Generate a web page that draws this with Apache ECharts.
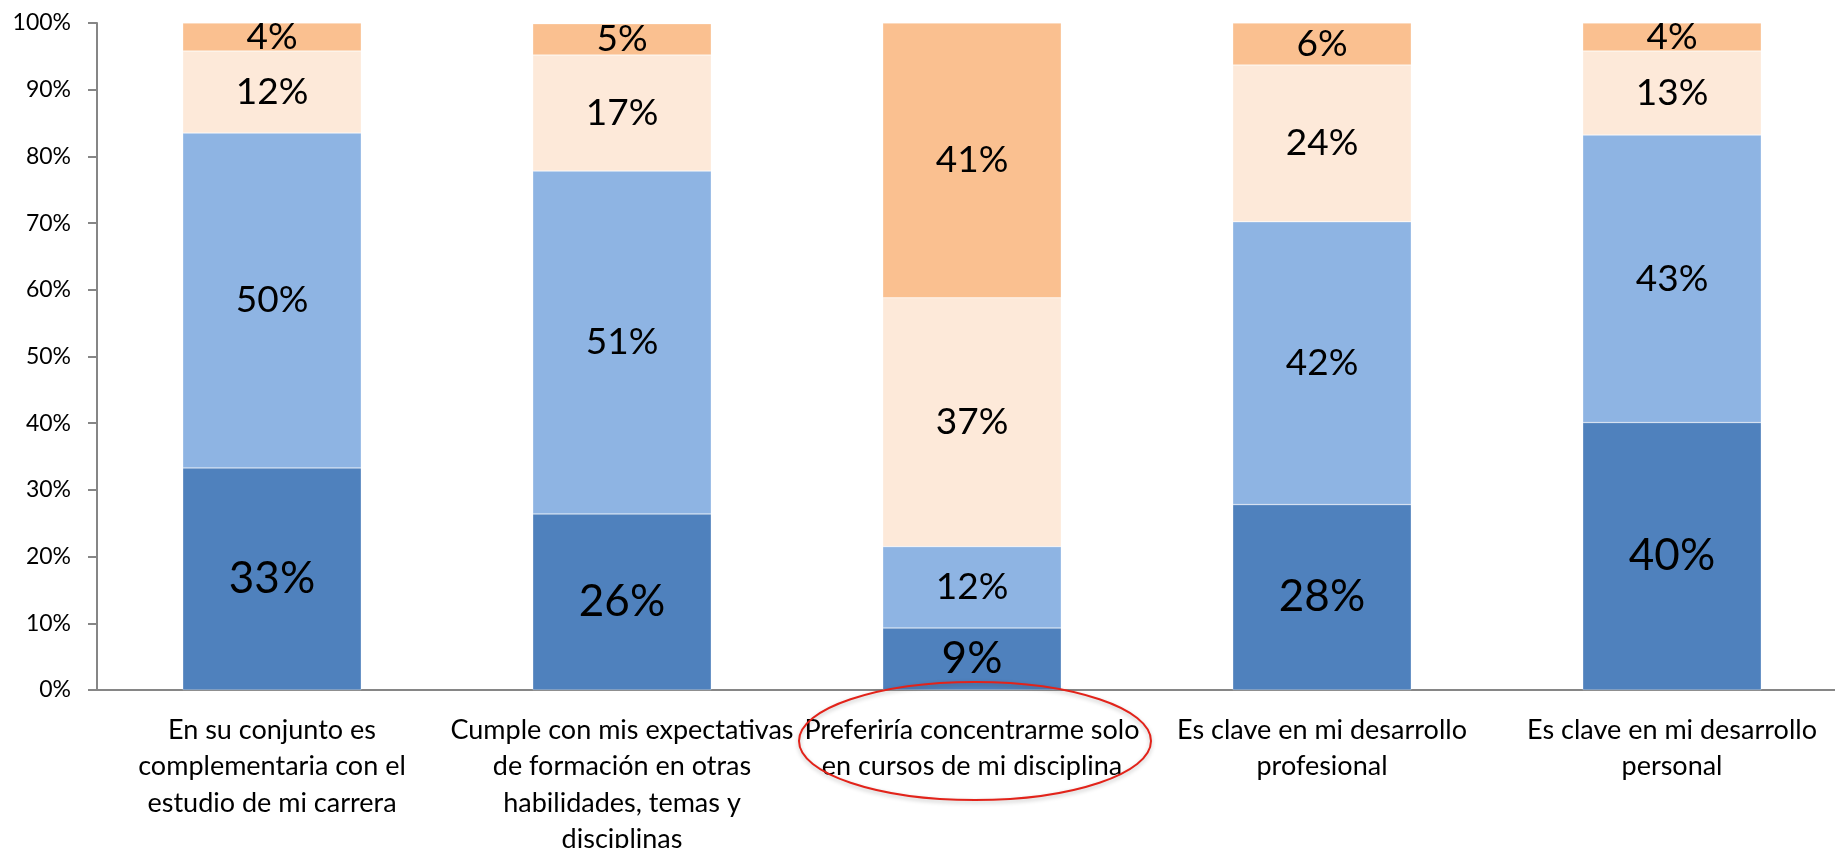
<!DOCTYPE html>
<html>
<head>
<meta charset="utf-8">
<script src="https://cdn.jsdelivr.net/npm/echarts@6/dist/echarts.min.js"></script>
<style>
  html, body { margin: 0; padding: 0; background: #fff; overflow: hidden; }
  /* el eje X sigue un poco mas alla del borde derecho de la imagen */
  #main { width: 1850px; height: 848px; }
</style>
</head>
<body>
<div id="main"></div>
<script>
  // categorias (eje X)
  const categories = [
    'En su conjunto es\ncomplementaria con el\nestudio de mi carrera',
    'Cumple con mis expectativas\nde formación en otras\nhabilidades, temas y\ndisciplinas',
    'Preferiría concentrarme solo\nen cursos de mi disciplina',
    'Es clave en mi desarrollo\nprofesional',
    'Es clave en mi desarrollo\npersonal'
  ]
  // porcentajes por nivel, de abajo hacia arriba
  const serie1 = [33.3, 26.4, 9.3, 27.8, 40.1]
  const serie2 = [50.2, 51.4, 12.2, 42.4, 43.1]
  const serie3 = [12.3, 17.4, 37.3, 23.5, 12.6]
  const serie4 = [4.2, 4.7, 41.2, 6.3, 4.2]
  const colores = ['#4F81BD', '#8EB4E3', '#FDE9D9', '#FAC090']
  const fuente = 'Lato, "Open Sans", sans-serif'

  const myChart = echarts.init(document.getElementById('main'))

  function serie(name, data, color, size) {
    return {
      name: name,
      type: 'bar',
      stack: 'total',
      data: data,
      barCategoryGap: '49%',
      itemStyle: { color: color, borderColor: 'rgba(255,255,255,0.6)', borderWidth: 0.5 },
      label: {
        show: true,
        position: 'inside',
        color: '#000',
        fontFamily: fuente,
        fontSize: size,
        formatter: function (p) { return Math.round(p.value) + '%' }
      },
      emphasis: { disabled: true }
    }
  }

  const option = {
    backgroundColor: '#fff',
    animation: false,
    grid: { left: 97, top: 23, bottom: 158, width: 1750, outerBoundsMode: 'none', containLabel: false },
    xAxis: {
      type: 'category',
      data: categories,
      axisLine: { lineStyle: { color: '#868686', width: 2 } },
      axisTick: { show: false },
      axisLabel: {
        interval: 0,
        margin: 22,
        color: '#000',
        fontFamily: fuente,
        fontSize: 27,
        lineHeight: 36.5
      }
    },
    yAxis: {
      type: 'value',
      min: 0,
      max: 100,
      interval: 10,
      splitLine: { show: false },
      axisLine: { show: true, lineStyle: { color: '#868686', width: 2 } },
      axisTick: { show: true, length: 9, lineStyle: { color: '#868686', width: 2 } },
      axisLabel: {
        formatter: '{value}%',
        margin: 26,
        color: '#000',
        fontFamily: fuente,
        fontSize: 23
      }
    },
    series: [
      serie('s1', serie1, colores[0], 44),
      serie('s2', serie2, colores[1], 37),
      serie('s3', serie3, colores[2], 37),
      serie('s4', serie4, colores[3], 37)
    ]
  }
  myChart.setOption(option, true)

  // ovalo rojo que marca la tercera categoria
  const cx = myChart.convertToPixel({ xAxisIndex: 0 }, categories[2])
  myChart.setOption({
    graphic: [{
      type: 'ellipse',
      shape: { cx: cx + 3, cy: 741, rx: 176, ry: 59 },
      style: {
        fill: 'none',
        stroke: '#E2231A',
        lineWidth: 2,
        shadowBlur: 4,
        shadowColor: 'rgba(0,0,0,0.25)',
        shadowOffsetY: 2
      },
      z: 100
    }]
  })
</script>
</body>
</html>
